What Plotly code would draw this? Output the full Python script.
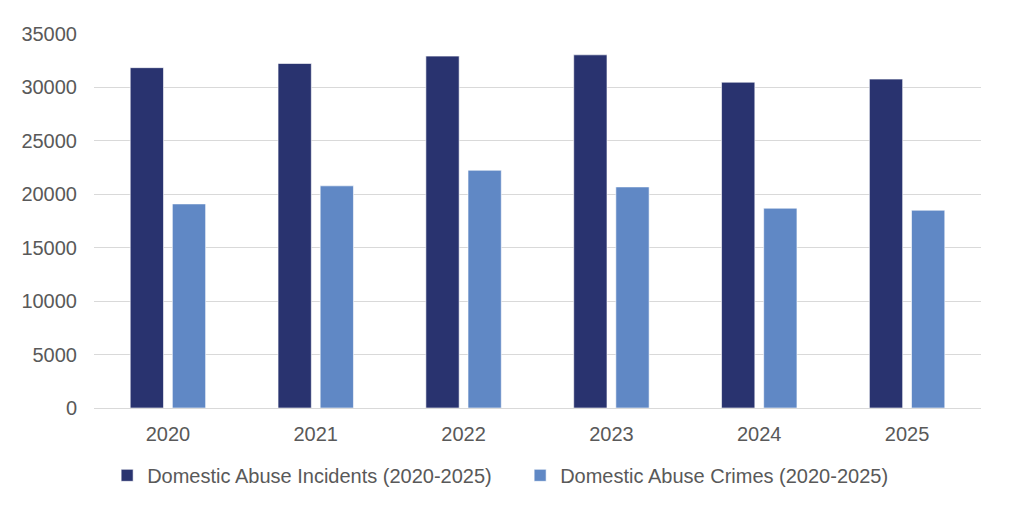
import plotly.graph_objects as go

years = ["2020", "2021", "2022", "2023", "2024", "2025"]
incidents = [31850, 32240, 32930, 33050, 30490, 30780]
crimes = [19100, 20790, 22250, 20690, 18700, 18510]
y_ticks = [0, 5000, 10000, 15000, 20000, 25000, 30000, 35000]
y_tick_labels = [str(v) for v in y_ticks]

font_family = "Liberation Sans, Arial, sans-serif"
grey = "#595959"

fig = go.Figure()
fig.add_trace(go.Bar(
    x=years, y=incidents, name="Domestic Abuse Incidents (2020-2025)",
    marker=dict(color="#29336F", line=dict(color="rgba(255,255,255,0.6)", width=1)),
))
fig.add_trace(go.Bar(
    x=years, y=crimes, name="Domestic Abuse Crimes (2020-2025)",
    marker=dict(color="#6088C5", line=dict(color="rgba(255,255,255,0.6)", width=1)),
))

fig.update_layout(
    width=1024, height=516,
    margin=dict(l=86, r=51, t=26, b=116),
    paper_bgcolor="white", plot_bgcolor="white",
    barmode="group", bargap=0.43, bargroupgap=0.21,
    font=dict(family=font_family, size=20, color=grey),
    showlegend=True,
    legend=dict(orientation="h", x=0.0148, xanchor="left", y=-0.18, yanchor="middle",
                font=dict(size=20, color=grey), itemwidth=30, entrywidth=368,
                entrywidthmode="pixels"),
)
fig.update_yaxes(
    range=[0, 35000], tickvals=y_ticks, ticktext=y_tick_labels, showgrid=True,
    gridcolor="#D9D9D9", gridwidth=1, zeroline=False, showline=False, ticklabelstandoff=16,
)
fig.update_xaxes(
    showline=True, linecolor="#D9D9D9", linewidth=1, ticks="", ticklabelstandoff=8,
)

fig.write_html("out.html")
